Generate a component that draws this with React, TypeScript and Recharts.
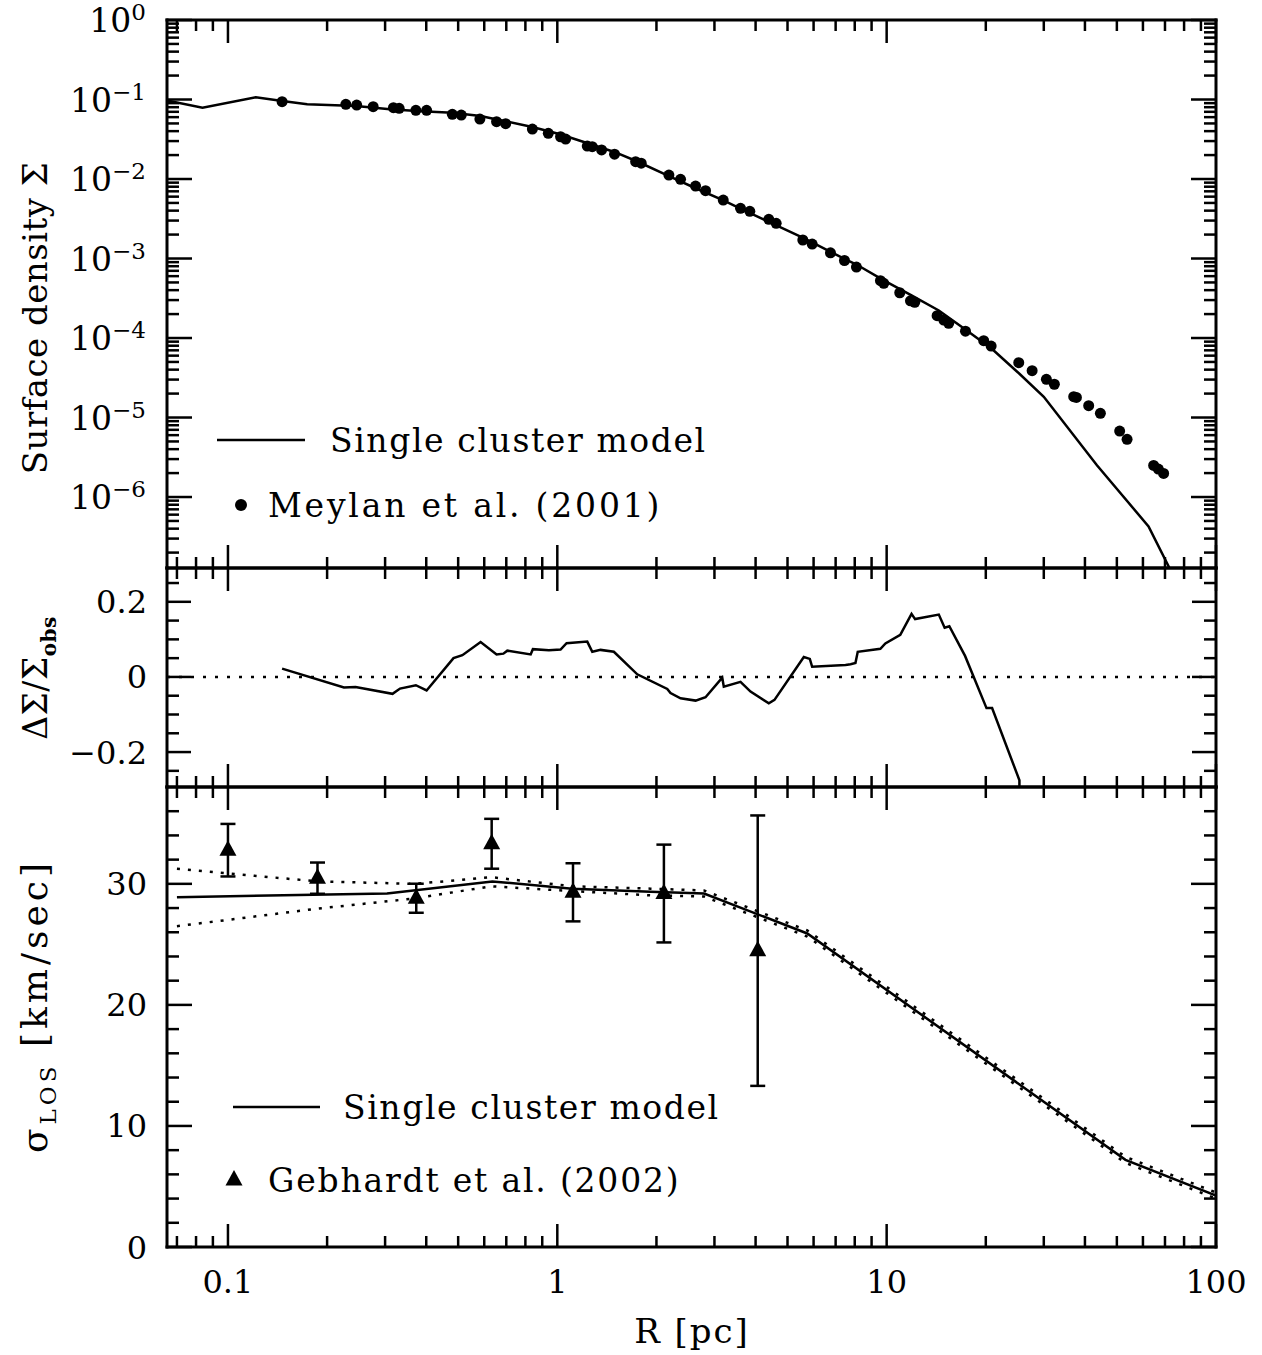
import React from 'react';
import { ComposedChart, Line, Scatter, XAxis, YAxis, ReferenceLine, ErrorBar, Legend } from 'recharts';

const FONT = '"DejaVu Serif", "Liberation Serif", serif';
const W = 1262;

// ---------- shared radius axis ----------
const rDomain: [number, number] = [0.0653, 100];
const rMajorTicks = [0.1, 1, 10, 100];
const rTickLabels = ['0.1', '1', '10', '100'];
const rMinorTicks = [0.07, 0.08, 0.09, 0.2, 0.3, 0.4, 0.5, 0.6, 0.7, 0.8, 0.9, 2, 3, 4, 5, 6, 7, 8, 9, 20, 30, 40, 50, 60, 70, 80, 90];
const rTicks = [...rMinorTicks, ...rMajorTicks].sort((a, b) => a - b);

// ---------- top panel: surface density ----------
const sigmaDomain: [number, number] = [1.28e-7, 1];
const sigmaMajorTicks = [1, 1e-1, 1e-2, 1e-3, 1e-4, 1e-5, 1e-6];
const sigmaTickExponents = ['0', '−1', '−2', '−3', '−4', '−5', '−6'];
const sigmaMantissas = [2, 3, 4, 5, 6, 7, 8, 9];
const sigmaMinorDecades = [1e-7, 1e-6, 1e-5, 1e-4, 1e-3, 1e-2, 1e-1];
const sigmaMinorTicks = sigmaMinorDecades.flatMap((d) => sigmaMantissas.map((m) => m * d)).filter((v) => v > sigmaDomain[0]);
const sigmaTicks = [...sigmaMinorTicks, ...sigmaMajorTicks];

const modelSigmaR = [0.0653, 0.0837, 0.1215, 0.1463, 0.174, 0.245, 0.316, 0.40, 0.48, 0.585, 0.70, 0.84, 1.02, 1.23, 1.49, 1.75, 2.2, 2.63, 3.17, 3.6, 4.39, 5.6, 7.5, 8.1, 9.8, 11.9, 14.4, 17.3, 20.9, 25.3, 30.0, 43.5, 62.4, 80];
const modelSigma = [0.097, 0.079, 0.107, 0.096, 0.087, 0.083, 0.075, 0.0705, 0.068, 0.062, 0.053, 0.045, 0.0366, 0.0284, 0.0219, 0.0166, 0.0107, 0.00765, 0.00545, 0.00423, 0.00289, 0.0018, 0.000975, 0.00084, 0.00053, 0.000343, 0.000222, 0.000129, 0.0000727, 0.0000355, 0.0000182, 0.00000251, 0.000000427, 0.000000055];

const obsR = [0.146, 0.228, 0.246, 0.276, 0.318, 0.331, 0.372, 0.401, 0.480, 0.511, 0.582, 0.654, 0.697, 0.840, 0.939, 1.023, 1.060, 1.233, 1.277, 1.363, 1.492, 1.729, 1.798, 2.182, 2.367, 2.629, 2.819, 3.190, 3.600, 3.842, 4.387, 4.619, 5.565, 5.941, 6.752, 7.446, 8.095, 9.576, 9.800, 10.96, 11.81, 12.17, 14.23, 14.91, 15.43, 17.35, 19.71, 20.76, 25.18, 27.65, 30.55, 32.30, 36.98, 37.68, 41.06, 44.56, 50.99, 53.70, 64.66, 66.82, 69.34];
const obsSigma = [0.0938, 0.0870, 0.0852, 0.0812, 0.0788, 0.0775, 0.0731, 0.0731, 0.0651, 0.0638, 0.0568, 0.0526, 0.0496, 0.0425, 0.0376, 0.0340, 0.0318, 0.0260, 0.0255, 0.0232, 0.0205, 0.0165, 0.0158, 0.0112, 0.00991, 0.00816, 0.00713, 0.00544, 0.00428, 0.00392, 0.00311, 0.00277, 0.00171, 0.00152, 0.00118, 0.000944, 0.000781, 0.000526, 0.000488, 0.000371, 0.000294, 0.000281, 0.000191, 0.000168, 0.000153, 0.000122, 0.0000925, 0.0000793, 0.0000489, 0.0000388, 0.0000302, 0.0000262, 0.0000183, 0.0000179, 0.0000141, 0.0000113, 0.00000676, 0.00000532, 0.0000025, 0.00000225, 0.00000198];

const topLegendLabels = ['Single cluster model', 'Meylan et al. (2001)'];

// ---------- middle panel: residuals ----------
const residDomain: [number, number] = [-0.293, 0.29];
const residMajorTicks = [-0.2, 0, 0.2];
const residTickLabels = ['−0.2', '0', '0.2'];
const residMinorTicks = [-0.25, -0.15, -0.1, -0.05, 0.05, 0.1, 0.15, 0.25];
const residTicks = [...residMinorTicks, ...residMajorTicks];

const residR = [0.146, 0.225, 0.244, 0.316, 0.333, 0.372, 0.401, 0.484, 0.515, 0.585, 0.654, 0.686, 0.705, 0.830, 0.843, 0.943, 1.023, 1.067, 1.233, 1.277, 1.353, 1.485, 1.749, 2.157, 2.207, 2.367, 2.629, 2.819, 3.168, 3.203, 3.600, 3.861, 4.387, 4.565, 5.604, 5.844, 5.94, 7.50, 7.77, 8.04, 8.17, 9.57, 9.91, 11.0, 11.9, 12.2, 14.4, 15.0, 15.5, 17.3, 20.1, 20.9, 25.3, 25.3];
const residVal = [0.022, -0.028, -0.027, -0.045, -0.031, -0.022, -0.036, 0.050, 0.058, 0.093, 0.060, 0.062, 0.070, 0.060, 0.074, 0.071, 0.073, 0.090, 0.094, 0.067, 0.072, 0.067, 0.007, -0.032, -0.043, -0.057, -0.063, -0.054, -0.002, -0.026, -0.013, -0.039, -0.070, -0.061, 0.053, 0.048, 0.027, 0.032, 0.034, 0.037, 0.067, 0.075, 0.089, 0.112, 0.168, 0.154, 0.166, 0.131, 0.135, 0.056, -0.083, -0.083, -0.275, -0.32];

// ---------- bottom panel: velocity dispersion ----------
const velDomain: [number, number] = [0, 38];
const velMajorTicks = [0, 10, 20, 30];
const velTickLabels = ['0', '10', '20', '30'];
const velMinorTicks = [2, 4, 6, 8, 12, 14, 16, 18, 22, 24, 26, 28, 32, 34, 36];
const velTicks = [...velMinorTicks, ...velMajorTicks];

const velModelR = [0.07, 0.304, 0.635, 1.11, 1.92, 2.79, 5.74, 53.1, 100];
const velModel = [28.9, 29.2, 30.2, 29.6, 29.35, 29.2, 25.9, 7.2, 4.25];
const velBoundR = [0.07, 0.187, 0.37, 0.63, 1.11, 1.92, 2.79, 5.74, 53.1, 100];
const velUpper = [31.25, 30.2, 30.0, 30.55, 29.8, 29.6, 29.45, 26.15, 7.45, 4.5];
const velLower = [26.5, 27.95, 28.8, 29.8, 29.4, 29.05, 28.95, 25.65, 6.95, 4.0];

const gebR = [0.1, 0.187, 0.373, 0.632, 1.116, 2.107, 4.06];
const gebSigma = [32.78, 30.47, 28.81, 33.31, 29.3, 29.2, 24.48];
const gebErr = [2.17, 1.29, 1.2, 2.06, 2.4, 4.04, 11.17];

const bottomLegendLabels = ['Single cluster model', 'Gebhardt et al. (2002)'];

// ---------- tables for the library ----------
const modelSigmaData = modelSigmaR.map((R, i) => ({ R, S: modelSigma[i] }));
const obsSigmaData = obsR.map((R, i) => ({ R, S: obsSigma[i] }));
const residData = residR.map((R, i) => ({ R, D: residVal[i] }));
const velModelData = velModelR.map((R, i) => ({ R, V: velModel[i] }));
const velUpperData = velBoundR.map((R, i) => ({ R, V: velUpper[i] }));
const velLowerData = velBoundR.map((R, i) => ({ R, V: velLower[i] }));
const gebData = gebR.map((R, i) => ({ R, V: gebSigma[i], e: gebErr[i] }));

// ---------- helpers ----------
type Side = 'top' | 'bottom' | 'left' | 'right';
function tickRenderer(
  side: Side,
  majors: number[],
  majorLen: number,
  minorLen: number,
  labelFn?: (v: number, x: number, y: number) => React.ReactNode
) {
  return (props: any) => {
    const { x, y, payload } = props;
    const v = payload?.value;
    const major = majors.indexOf(v) >= 0;
    const len = major ? majorLen : minorLen;
    let x2 = x;
    let y2 = y;
    if (side === 'bottom') y2 = y - len;
    else if (side === 'top') y2 = y + len;
    else if (side === 'left') x2 = x + len;
    else x2 = x - len;
    return (
      <g>
        <line x1={x} y1={y} x2={x2} y2={y2} stroke="#000" strokeWidth={2.5} />
        {major && labelFn ? labelFn(v, x, y) : null}
      </g>
    );
  };
}

const axisLineStyle = { stroke: '#000', strokeWidth: 3, strokeLinecap: 'square' as const };

const rLabel = (v: number, x: number, y: number) => (
  <text x={x} y={y + 46} textAnchor="middle" fontFamily={FONT} fontSize={32} fill="#000">
    {rTickLabels[rMajorTicks.indexOf(v)]}
  </text>
);
const sigmaLabel = (v: number, x: number, y: number) => (
  <text x={x - 21} y={y + 12} textAnchor="end" fontFamily={FONT} fontSize={33} fill="#000">
    10
    <tspan dy={-12} fontSize={23}>
      {sigmaTickExponents[sigmaMajorTicks.indexOf(v)]}
    </tspan>
  </text>
);
const residLabel = (v: number, x: number, y: number) => (
  <text x={x - 20} y={y + 11.5} textAnchor="end" fontFamily={FONT} fontSize={32} fill="#000">
    {residTickLabels[residMajorTicks.indexOf(v)]}
  </text>
);
const velLabel = (v: number, x: number, y: number) => (
  <text x={x - 20} y={y + 11.5} textAnchor="end" fontFamily={FONT} fontSize={32} fill="#000">
    {velTickLabels[velMajorTicks.indexOf(v)]}
  </text>
);

const DotShape = (p: any) => <circle cx={p.cx} cy={p.cy} r={5.5} fill="#000" />;
const TriShape = (p: any) => (
  <polygon points={`${p.cx},${p.cy - 10} ${p.cx - 8.5},${p.cy + 5.5} ${p.cx + 8.5},${p.cy + 5.5}`} fill="#000" />
);

const yTitle = (cy: number, fontSize: number, spacing: number, content: React.ReactNode) => () => (
  <text
    transform={`translate(47,${cy}) rotate(-90)`}
    textAnchor="middle"
    fontFamily={FONT}
    fontSize={fontSize}
    letterSpacing={spacing}
    fill="#000"
  >
    {content}
  </text>
);

const LEG_FONT = 33;

function xAxes(bottomH: number, topH: number, withLabels: boolean) {
  return [
    <XAxis
      key="xb"
      xAxisId="b"
      type="number"
      dataKey="R"
      scale="log"
      domain={rDomain}
      allowDataOverflow
      ticks={rTicks}
      interval={0}
      height={bottomH}
      tickSize={0}
      tickMargin={0}
      axisLine={axisLineStyle}
      tickLine={false}
      tick={tickRenderer('bottom', rMajorTicks, 23, 11, withLabels ? rLabel : undefined)}
      label={
        withLabels
          ? () => (
              <text x={692} y={583} textAnchor="middle" fontFamily={FONT} fontSize={34} letterSpacing={2} fill="#000">
                R [pc]
              </text>
            )
          : undefined
      }
    />,
    <XAxis
      key="xt"
      xAxisId="t"
      orientation="top"
      type="number"
      dataKey="R"
      scale="log"
      domain={rDomain}
      allowDataOverflow
      ticks={rTicks}
      interval={0}
      height={topH}
      tickSize={0}
      tickMargin={0}
      axisLine={axisLineStyle}
      tickLine={false}
      tick={tickRenderer('top', rMajorTicks, 23, 11)}
    />,
  ];
}

function TopPanel() {
  return (
    <ComposedChart width={W} height={600} margin={{ top: 0, right: 0, bottom: 0, left: 0 }}>
      {xAxes(32, 20, false)}
      <YAxis
        yAxisId="l"
        type="number"
        dataKey="S"
        scale="log"
        domain={sigmaDomain}
        allowDataOverflow
        ticks={sigmaTicks}
        interval={0}
        width={167}
        tickSize={0}
        tickMargin={0}
        axisLine={axisLineStyle}
        tickLine={false}
        tick={tickRenderer('left', sigmaMajorTicks, 25, 12, sigmaLabel)}
        label={yTitle(318, 34, 0.5, 'Surface density Σ')}
      />
      <YAxis
        yAxisId="r"
        orientation="right"
        type="number"
        dataKey="S"
        scale="log"
        domain={sigmaDomain}
        allowDataOverflow
        ticks={sigmaTicks}
        interval={0}
        width={46}
        tickSize={0}
        tickMargin={0}
        axisLine={axisLineStyle}
        tickLine={false}
        tick={tickRenderer('right', sigmaMajorTicks, 25, 12)}
      />
      <Line
        xAxisId="b"
        yAxisId="l"
        data={modelSigmaData}
        dataKey="S"
        type="linear"
        stroke="#000"
        strokeWidth={2.5}
        dot={false}
        activeDot={false}
        isAnimationActive={false}
      />
      <Scatter xAxisId="b" yAxisId="l" data={obsSigmaData} dataKey="S" shape={DotShape} isAnimationActive={false} />
      <Legend
        layout="horizontal"
        verticalAlign="middle"
        align="center"
        wrapperStyle={{ left: 0, top: 0, width: W, height: 600, pointerEvents: 'none' }}
        content={() => (
          <svg width={W} height={600} style={{ display: 'block' }}>
            <line x1={217} y1={440} x2={305} y2={440} stroke="#000" strokeWidth={2.5} />
            <text x={330} y={452} fontFamily={FONT} fontSize={LEG_FONT} letterSpacing={1.6} fill="#000">
              {topLegendLabels[0]}
            </text>
            <circle cx={241} cy={505} r={6} fill="#000" />
            <text x={268} y={517} fontFamily={FONT} fontSize={LEG_FONT} letterSpacing={2.8} fill="#000">
              {topLegendLabels[1]}
            </text>
          </svg>
        )}
      />
    </ComposedChart>
  );
}

function MidPanel() {
  return (
    <ComposedChart width={W} height={280} margin={{ top: 0, right: 0, bottom: 0, left: 0 }}>
      {xAxes(33, 28, false)}
      <YAxis
        yAxisId="l"
        type="number"
        dataKey="D"
        domain={residDomain}
        allowDataOverflow
        ticks={residTicks}
        interval={0}
        width={167}
        tickSize={0}
        tickMargin={0}
        axisLine={axisLineStyle}
        tickLine={false}
        tick={tickRenderer('left', residMajorTicks, 24, 12, residLabel)}
        label={yTitle(
          138,
          33,
          0.5,
          <>
            ΔΣ/Σ
            <tspan dy={9} fontSize={20} fontWeight="bold">
              obs
            </tspan>
          </>
        )}
      />
      <YAxis
        yAxisId="r"
        orientation="right"
        type="number"
        dataKey="D"
        domain={residDomain}
        allowDataOverflow
        ticks={residTicks}
        interval={0}
        width={46}
        tickSize={0}
        tickMargin={0}
        axisLine={axisLineStyle}
        tickLine={false}
        tick={tickRenderer('right', residMajorTicks, 24, 12)}
      />
      <ReferenceLine xAxisId="b" yAxisId="l" y={0} stroke="#000" strokeWidth={2.5} strokeDasharray="3 9" />
      <Line
        xAxisId="b"
        yAxisId="l"
        data={residData}
        dataKey="D"
        type="linear"
        stroke="#000"
        strokeWidth={2.5}
        dot={false}
        activeDot={false}
        isAnimationActive={false}
      />
    </ComposedChart>
  );
}

function BottomPanel() {
  return (
    <ComposedChart width={W} height={595} margin={{ top: 0, right: 0, bottom: 0, left: 0 }}>
      {xAxes(108, 27, true)}
      <YAxis
        yAxisId="l"
        type="number"
        dataKey="V"
        domain={velDomain}
        allowDataOverflow
        ticks={velTicks}
        interval={0}
        width={167}
        tickSize={0}
        tickMargin={0}
        axisLine={axisLineStyle}
        tickLine={false}
        tick={tickRenderer('left', velMajorTicks, 25, 12, velLabel)}
        label={yTitle(
          246,
          36,
          4,
          <>
            σ
            <tspan dy={9} fontSize={23}>
              LOS
            </tspan>
            <tspan dy={-9}> [km/sec]</tspan>
          </>
        )}
      />
      <YAxis
        yAxisId="r"
        orientation="right"
        type="number"
        dataKey="V"
        domain={velDomain}
        allowDataOverflow
        ticks={velTicks}
        interval={0}
        width={46}
        tickSize={0}
        tickMargin={0}
        axisLine={axisLineStyle}
        tickLine={false}
        tick={tickRenderer('right', velMajorTicks, 25, 12)}
      />
      <Line
        xAxisId="b"
        yAxisId="l"
        data={velUpperData}
        dataKey="V"
        type="linear"
        stroke="#000"
        strokeWidth={2.5}
        strokeDasharray="3 8"
        dot={false}
        activeDot={false}
        isAnimationActive={false}
      />
      <Line
        xAxisId="b"
        yAxisId="l"
        data={velLowerData}
        dataKey="V"
        type="linear"
        stroke="#000"
        strokeWidth={2.5}
        strokeDasharray="3 8"
        dot={false}
        activeDot={false}
        isAnimationActive={false}
      />
      <Line
        xAxisId="b"
        yAxisId="l"
        data={velModelData}
        dataKey="V"
        type="linear"
        stroke="#000"
        strokeWidth={2.5}
        dot={false}
        activeDot={false}
        isAnimationActive={false}
      />
      <Scatter xAxisId="b" yAxisId="l" data={gebData} dataKey="V" shape={TriShape} isAnimationActive={false}>
        <ErrorBar dataKey="e" direction="y" width={7.5} stroke="#000" strokeWidth={2.5} isAnimationActive={false} />
      </Scatter>
      <Legend
        layout="horizontal"
        verticalAlign="middle"
        align="center"
        wrapperStyle={{ left: 0, top: 0, width: W, height: 595, pointerEvents: 'none' }}
        content={() => (
          <svg width={W} height={595} style={{ display: 'block' }}>
            <line x1={233} y1={347} x2={320} y2={347} stroke="#000" strokeWidth={2.5} />
            <text x={343} y={359} fontFamily={FONT} fontSize={LEG_FONT} letterSpacing={1.6} fill="#000">
              {bottomLegendLabels[0]}
            </text>
            <polygon points="234,410 225.5,425.5 242.5,425.5" fill="#000" />
            <text x={268} y={432} fontFamily={FONT} fontSize={LEG_FONT} letterSpacing={1.8} fill="#000">
              {bottomLegendLabels[1]}
            </text>
          </svg>
        )}
      />
    </ComposedChart>
  );
}

export default function App() {
  return (
    <div style={{ position: 'absolute', left: 0, top: 0, width: W, height: 1355, background: '#fff', fontFamily: FONT }}>
      <div style={{ position: 'absolute', left: 0, top: 0 }}>
        <TopPanel />
      </div>
      <div style={{ position: 'absolute', left: 0, top: 540 }}>
        <MidPanel />
      </div>
      <div style={{ position: 'absolute', left: 0, top: 760 }}>
        <BottomPanel />
      </div>
    </div>
  );
}
